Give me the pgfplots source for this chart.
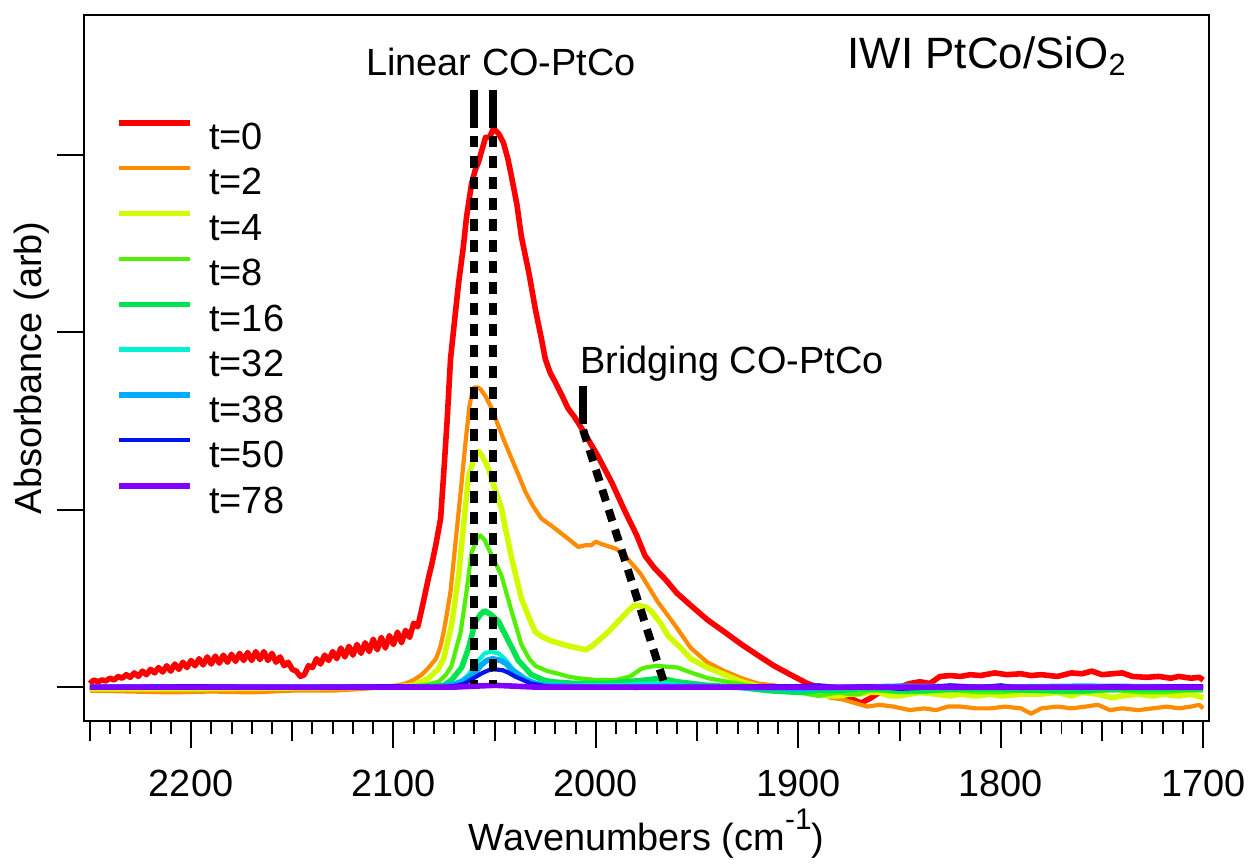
\documentclass[border=0pt]{standalone}
\usepackage{fontspec}
\setmainfont{Liberation Sans}
\usepackage{pgfplots}
\pgfplotsset{compat=1.18}

\begin{document}
\begin{tikzpicture}

\definecolor{c0}{RGB}{255,0,0}
\definecolor{c2}{RGB}{255,140,0}
\definecolor{c4}{RGB}{212,250,0}
\definecolor{c8}{RGB}{80,240,0}
\definecolor{c16}{RGB}{0,228,80}
\definecolor{c32}{RGB}{0,240,210}
\definecolor{c38}{RGB}{0,170,255}
\definecolor{c50}{RGB}{0,20,240}
\definecolor{c78}{RGB}{130,0,255}

\begin{axis}[
name=ax,
width=564.5pt,
height=354pt,
scale only axis,
x dir=reverse,
xmin=1697, xmax=2253,
ymin=-0.19, ymax=3.79,
axis line style={line width=1pt},
every tick/.style={black, line width=1pt},
tick align=outside,
xtick pos=bottom,
ytick pos=left,
xtick={1700,1800,...,2200},
minor xtick={1700,1710,...,2250},
extra x ticks={1750,1850,1950,2050,2150,2250},
extra x tick labels={},
extra x tick style={major tick length=10pt},
major tick length=13.5pt,
minor tick length=6.5pt,
ytick={0,1,2,3},
yticklabels={},
tick label style={font=\fontsize{19}{23}\selectfont},
label style={font=\fontsize{19}{23}\selectfont},
/pgf/number format/assume math mode=true,
/pgf/number format/1000 sep={},
xticklabel style={anchor=base, yshift=-24.5pt},
xlabel={Wavenumbers (cm\raisebox{0.55em}{\fontsize{15}{17}\selectfont -1})},
xlabel style={at={(axis description cs:0.5,-0.184)}, anchor=base},
ylabel={Absorbance (arb)},
ylabel style={at={(axis description cs:-0.0372,0.5)}, anchor=base},
legend cell align={left},
legend image code/.code={\draw[#1] (0pt,6.8pt) -- (35.5pt,6.8pt);},
legend style={
  at={(axis description cs:0,1)},
  anchor=north west,
  xshift=16pt,
  yshift=-52.5pt,
  draw=none,
  fill=none,
  inner sep=0pt,
  row sep=7.95pt,
  font=\fontsize{19}{23}\selectfont,
  nodes={inner sep=0pt, text height=13.6pt, text depth=0pt},
  /tikz/every odd column/.style={column sep=8.5pt}
},
every axis plot/.append style={line join=round},
]

% t=0
\addplot [c0, line width=2.8pt] table {%
2250 0.02
2248 0.04
2246 0.03
2244 0.04
2242 0.035
2240 0.05
2238 0.04
2236 0.06
2234 0.05
2232 0.07
2230 0.055
2228 0.08
2226 0.06
2224 0.09
2222 0.07
2220 0.10
2218 0.08
2216 0.11
2214 0.085
2212 0.12
2210 0.09
2208 0.13
2206 0.10
2204 0.14
2202 0.11
2200 0.15
2198 0.12
2196 0.16
2194 0.125
2192 0.17
2190 0.13
2188 0.175
2186 0.135
2184 0.18
2182 0.14
2180 0.185
2178 0.145
2176 0.19
2174 0.15
2172 0.195
2170 0.15
2168 0.20
2166 0.155
2164 0.20
2162 0.15
2160 0.19
2158 0.14
2156 0.17
2154 0.12
2152 0.14
2150 0.10
2148 0.09
2146 0.06
2144 0.07
2142 0.12
2140 0.11
2138 0.16
2136 0.13
2134 0.18
2132 0.15
2130 0.20
2128 0.16
2126 0.22
2124 0.17
2122 0.23
2120 0.18
2118 0.24
2116 0.19
2114 0.25
2112 0.20
2110 0.27
2108 0.21
2106 0.28
2104 0.22
2102 0.29
2100 0.24
2098 0.31
2096 0.25
2094 0.32
2092 0.28
2090 0.36
2088 0.34
2086 0.44
2084.1 0.54
2082.6 0.62
2081.1 0.69
2079.1 0.80
2076.7 0.95
2075.2 1.20
2073.5 1.50
2071.8 1.85
2069.5 2.10
2067.8 2.28
2065.5 2.48
2063.9 2.65
2061.4 2.84
2059.5 2.92
2058 2.96
2056 3.04
2054.5 3.10
2052.5 3.10
2050.6 3.15
2048 3.12
2045.7 3.07
2043.5 2.98
2041.7 2.88
2039 2.72
2036.8 2.54
2033 2.33
2029.9 2.13
2027 1.97
2025 1.85
2022.5 1.77
2020.1 1.72
2017 1.65
2013.7 1.57
2011 1.53
2008.7 1.49
2004 1.40
1998.9 1.30
1992 1.15
1985.6 0.99
1980 0.86
1975.7 0.74
1971 0.67
1965.9 0.61
1960 0.53
1953.1 0.46
1945 0.38
1936.4 0.31
1928 0.24
1920.1 0.18
1912 0.12
1903.9 0.07
1895.5 0.02
1888 -0.01
1880 -0.04
1875 -0.06
1869 -0.09
1864 -0.06
1860 -0.03
1855 -0.02
1850 0.00
1845 0.02
1840 0.03
1835 0.02
1830 0.06
1825 0.065
1820 0.06
1815 0.07
1810 0.065
1803 0.08
1797 0.07
1790 0.075
1785 0.065
1780 0.07
1772 0.06
1765 0.08
1760 0.075
1755 0.09
1750 0.07
1745 0.075
1740 0.08
1735 0.06
1728 0.055
1722 0.06
1716 0.05
1712 0.06
1706 0.05
1702 0.055
1700 0.04
};
\addlegendentry{t=0}

% t=2
\addplot [c2, line width=2.1pt] table {%
2250 -0.02
2230 -0.025
2210 -0.03
2190 -0.025
2170 -0.03
2150 -0.02
2130 -0.02
2115 -0.01
2105 0.00
2098 0.01
2094 0.02
2090 0.04
2086 0.07
2082.6 0.11
2079 0.16
2077 0.22
2075.2 0.31
2073.5 0.42
2071.8 0.54
2069.3 0.82
2066.8 1.10
2064.4 1.38
2062.5 1.58
2061 1.67
2060 1.69
2058.5 1.69
2057 1.68
2054.5 1.64
2051 1.56
2048.1 1.47
2045 1.38
2041.7 1.29
2038 1.19
2034.8 1.10
2031 1.02
2026.9 0.95
2022 0.91
2018.6 0.88
2013 0.83
2008.7 0.79
2005 0.80
2002.3 0.80
2000 0.82
1998 0.81
1995.5 0.80
1990 0.78
1985.6 0.74
1978 0.64
1969.4 0.48
1961 0.35
1953.1 0.22
1945 0.14
1936.4 0.09
1928 0.05
1920.1 0.02
1912 0.01
1905 -0.01
1898 -0.02
1890 -0.03
1884 -0.06
1878 -0.07
1872 -0.09
1866 -0.11
1860 -0.10
1853 -0.11
1845 -0.13
1838 -0.12
1832 -0.13
1826 -0.11
1820 -0.11
1812 -0.12
1805 -0.12
1798 -0.11
1790 -0.12
1785 -0.15
1780 -0.12
1772 -0.11
1765 -0.12
1758 -0.11
1752 -0.10
1746 -0.13
1740 -0.12
1732 -0.13
1725 -0.12
1718 -0.11
1712 -0.12
1706 -0.11
1702 -0.10
1700 -0.12
};
\addlegendentry{t=2}

% t=4
\addplot [c4, line width=2.8pt] table {%
2250 -0.01
2200 -0.01
2150 -0.005
2100 0.00
2090 0.01
2082.6 0.05
2078 0.10
2075.2 0.16
2071.3 0.35
2067.8 0.63
2065.4 0.91
2062.9 1.19
2059.5 1.31
2058 1.33
2056 1.30
2053 1.23
2050 1.12
2046.7 1.01
2041.7 0.73
2036.8 0.50
2033 0.39
2029.9 0.31
2026 0.28
2022 0.26
2013 0.23
2008.7 0.22
2005 0.21
2002 0.23
1998.9 0.26
1994 0.31
1989 0.37
1984 0.43
1981 0.46
1979.2 0.46
1975 0.45
1972.8 0.43
1968 0.36
1964.4 0.29
1958 0.22
1953.1 0.16
1945 0.11
1936.4 0.07
1928 0.03
1920.1 0.005
1912 -0.01
1905 -0.02
1898 -0.03
1890 -0.04
1885 -0.05
1880 -0.05
1875 -0.04
1870 -0.04
1865 -0.03
1860 -0.03
1855 -0.05
1850 -0.05
1845 -0.04
1840 -0.03
1832 -0.04
1825 -0.05
1820 -0.04
1812 -0.05
1805 -0.04
1800 -0.05
1790 -0.04
1780 -0.04
1772 -0.03
1765 -0.05
1760 -0.03
1752 -0.04
1745 -0.06
1740 -0.05
1732 -0.04
1725 -0.05
1720 -0.04
1712 -0.05
1706 -0.04
1700 -0.06
};
\addlegendentry{t=4}

% t=8
\addplot [c8, line width=2.1pt] table {%
2250 0.00
2200 -0.005
2150 0.00
2100 0.00
2085 0.01
2077.7 0.03
2074 0.07
2071.3 0.12
2066.8 0.31
2063.9 0.54
2061.4 0.76
2058.5 0.84
2057 0.855
2055 0.83
2053 0.78
2046.7 0.63
2041.7 0.43
2036.8 0.24
2033 0.16
2029.9 0.12
2024 0.09
2020.1 0.08
2014 0.06
2008.7 0.05
2000 0.04
1990 0.04
1983 0.06
1978 0.10
1975.7 0.11
1970 0.12
1965 0.115
1959.5 0.11
1955 0.09
1950 0.07
1944.7 0.05
1935 0.03
1925 0.01
1915 -0.01
1908 -0.02
1900 -0.03
1895 -0.04
1890 -0.05
1885 -0.04
1880 -0.03
1875 -0.04
1870 -0.04
1865 -0.02
1860 -0.02
1850 -0.03
1840 -0.03
1830 -0.02
1820 -0.02
1810 -0.03
1800 -0.03
1790 -0.02
1780 -0.02
1770 -0.03
1760 -0.03
1750 -0.02
1740 -0.02
1730 -0.03
1720 -0.03
1710 -0.02
1700 -0.02
};
\addlegendentry{t=8}

% t=16
\addplot [c16, line width=2.8pt] table {%
2250 0.00
2200 0.00
2150 0.00
2090 0.00
2080 0.005
2075 0.01
2071.3 0.04
2066.3 0.11
2062.9 0.22
2059.5 0.37
2057 0.41
2055 0.43
2052 0.41
2048.1 0.37
2043.2 0.26
2038.3 0.15
2031.9 0.07
2026 0.04
2022 0.03
2010 0.02
1995 0.02
1985 0.03
1975 0.04
1968 0.05
1960 0.03
1945 0.01
1930 0.00
1915 -0.02
1900 -0.03
1890 -0.02
1880 -0.02
1870 -0.01
1860 -0.01
1850 -0.02
1840 -0.02
1820 -0.01
1800 -0.01
1780 -0.02
1760 -0.02
1740 -0.01
1720 -0.01
1700 -0.01
};
\addlegendentry{t=16}

% t=32
\addplot [c32, line width=2.1pt] table {%
2250 0.00
2200 0.00
2150 0.00
2080 0.00
2070 0.02
2066 0.04
2063 0.07
2060 0.12
2058 0.15
2055 0.19
2052 0.20
2048 0.19
2045 0.16
2043 0.13
2040 0.09
2036 0.06
2032 0.035
2028 0.02
2020 0.015
2010 0.01
1990 0.01
1975 0.02
1965 0.02
1950 0.00
1920 0.00
1900 -0.01
1880 -0.005
1850 0.00
1800 0.005
1750 0.00
1700 0.00
};
\addlegendentry{t=32}

% t=38
\addplot [c38, line width=2.8pt] table {%
2250 0.00
2200 0.00
2150 0.00
2080 0.00
2070 0.015
2066 0.03
2062 0.06
2059 0.09
2057 0.12
2054 0.15
2051 0.16
2047 0.15
2044 0.13
2042 0.10
2038 0.07
2035 0.04
2030 0.02
2025 0.01
2000 0.00
1950 0.005
1920 -0.005
1900 -0.01
1870 0.00
1850 0.005
1800 0.00
1760 0.005
1700 0.00
};
\addlegendentry{t=38}

% t=50
\addplot [c50, line width=2.1pt] table {%
2250 0.00
2200 0.005
2150 0.00
2100 0.005
2075 0.00
2068 0.01
2065 0.02
2062 0.04
2059 0.06
2056 0.08
2053 0.095
2050 0.10
2046 0.095
2043 0.08
2040 0.06
2036 0.04
2032 0.02
2025 0.005
2020 0.00
2000 0.00
1980 -0.005
1960 0.00
1940 0.00
1920 0.005
1900 0.005
1890 0.01
1880 0.00
1865 0.005
1850 -0.01
1840 -0.005
1825 0.01
1810 0.00
1800 0.01
1790 -0.005
1775 0.00
1760 -0.005
1745 0.005
1730 0.00
1715 0.005
1700 0.005
};
\addlegendentry{t=50}

% t=78
\addplot [c78, line width=2.8pt] table {%
2250 0.00
2150 0.00
2070 0.00
2060 0.005
2050 0.01
2040 0.005
2030 0.00
1700 0.00
};
\addlegendentry{t=78}

% peak position markers
\draw [black, line width=4pt] (axis cs:2060.4,3.369) -- (axis cs:2060.4,3.155);
\draw [black, line width=4pt] (axis cs:2050.6,3.369) -- (axis cs:2050.6,3.155);
\draw [black, line width=4pt, dash pattern=on 6pt off 4.5pt] (axis cs:2060.4,3.11) -- (axis cs:2060.4,0.02);
\draw [black, line width=4pt, dash pattern=on 6pt off 4.5pt] (axis cs:2050.6,3.11) -- (axis cs:2050.6,0.02);
\draw [black, line width=4pt] (axis cs:2006.3,1.70) -- (axis cs:2006.3,1.485);
\draw [black, line width=4pt, dash pattern=on 6pt off 4.5pt] (axis cs:2006.3,1.45) -- (axis cs:1965.9,0.01);

\node [anchor=base west, inner sep=0pt, font=\fontsize{19}{23}\selectfont] at (axis cs:2113.6,3.45) {Linear CO-PtCo};
\node [anchor=base west, inner sep=0pt, font=\fontsize{19}{23}\selectfont] at (axis cs:2007.8,1.766) {Bridging CO-PtCo};
\node [anchor=base west, inner sep=0pt, font=\fontsize{22}{26}\selectfont] at (axis cs:1875.8,3.49) {IWI PtCo/SiO\textsubscript{2}};

\end{axis}

\path (ax.south west) ++(-42pt,-69pt);
\path (ax.north east) ++(19.5pt,7.5pt);

\end{tikzpicture}
\end{document}
